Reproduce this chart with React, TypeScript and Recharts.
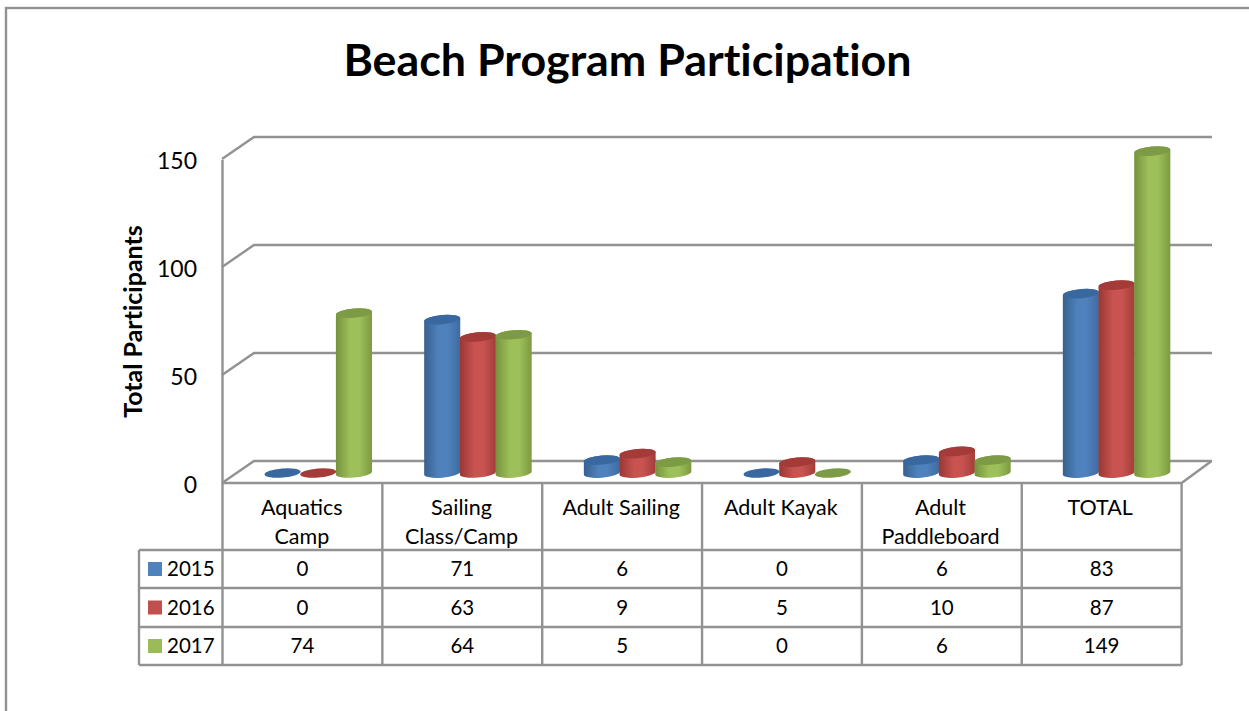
import React from "react";
import { ComposedChart, Bar, XAxis, YAxis, CartesianGrid } from "recharts";

const categories = ["Aquatics\nCamp", "Sailing\nClass/Camp", "Adult Sailing", "Adult Kayak", "Adult\nPaddleboard", "TOTAL"];
const years = ["2015", "2016", "2017"];
const values2015 = [0, 71, 6, 0, 6, 83];
const values2016 = [0, 63, 9, 5, 10, 87];
const values2017 = [74, 64, 5, 0, 6, 149];
const yTicks = [0, 50, 100, 150];

const seriesValues = [values2015, values2016, values2017];
const swatches = ["#4f81bd", "#c0504d", "#9bbb59"];
const tops = ["#38689f", "#a43b39", "#7d9b44"];
const gradients = [
  ["#37618f", "#4f81bd", "#3f6c9f"],
  ["#9a3734", "#c85350", "#a33d3a"],
  ["#76923c", "#9ec05b", "#7c9a41"],
];

const data = categories.map((name, i) => ({
  name,
  y2015: values2015[i],
  y2016: values2016[i],
  y2017: values2017[i],
}));

const FONT = "Lato, 'Noto Sans', sans-serif";
const NOLIG: React.CSSProperties = { fontVariantLigatures: "none" };
const GRAY = "#929292";
const SW = 2.4;
const DX = 32;
const DY = 22;
const FRONT_LEFT = 222.5;
const FRONT_Y = 483;
const COL_W = 159.85;
const ROW_Y = [483, 550, 588, 627, 665];
const LEGEND_X = 139;

const Cylinder = (props: any) => {
  const { x, y, width, height, seriesIdx } = props;
  const rx = width / 2 + 0.2;
  const ry = 4.6;
  const tilt = 3 / 2;
  const cx = x + width / 2 - 15.3;
  const top = y + 12;
  const bottom = y + height + 12;
  const c = tops[seriesIdx];
  if (height < 0.5) {
    return <ellipse cx={cx} cy={top} rx={rx} ry={ry} fill={c} transform={`rotate(-5 ${cx} ${top})`} />;
  }
  const d = `M${cx - rx} ${top + tilt} L${cx - rx} ${bottom + tilt} A${rx} ${ry} -5 0 0 ${cx + rx} ${bottom - tilt} L${cx + rx} ${top - tilt} A${rx} ${ry} -5 0 0 ${cx - rx} ${top + tilt} Z`;
  return (
    <g>
      <path d={d} fill={`url(#cyl${seriesIdx})`} />
      <ellipse cx={cx} cy={top} rx={rx} ry={ry} fill={c} transform={`rotate(-5 ${cx} ${top})`} />
    </g>
  );
};

const GridLine = (props: any) => {
  const { x1, y1, x2, y2 } = props;
  return (
    <polyline
      points={`${x1 - DX},${y1 + DY} ${x1},${y1} ${x2},${y2}`}
      fill="none"
      stroke={GRAY}
      strokeWidth={SW}
    />
  );
};

const YTick = (props: any) => {
  const { y, payload } = props;
  return (
    <text x={197} y={y + 32} textAnchor="end" fontFamily={FONT} fontSize={23} fill="#000">
      {payload.value}
    </text>
  );
};

const XTick = (props: any) => {
  const { x, payload } = props;
  const lines = String(payload.value).split("\n");
  return (
    <text textAnchor="middle" fontFamily={FONT} fontSize={21.5} fill="#000">
      {lines.map((l, i) => (
        <tspan key={l} x={x - DX} y={515 + i * 28.5}>
          {l}
        </tspan>
      ))}
    </text>
  );
};

const DataTable = () => {
  const right = FRONT_LEFT + COL_W * categories.length;
  return (
    <g>
      <line x1={FRONT_LEFT} y1={160} x2={FRONT_LEFT} y2={ROW_Y[4]} stroke={GRAY} strokeWidth={SW} />
      <line x1={FRONT_LEFT} y1={FRONT_Y} x2={right} y2={FRONT_Y} stroke={GRAY} strokeWidth={SW} />
      <line x1={right} y1={FRONT_Y} x2={right + DX - 2} y2={FRONT_Y - DY} stroke={GRAY} strokeWidth={SW} />
      {categories.map((_, i) => (
        <line
          key={i}
          x1={FRONT_LEFT + COL_W * (i + 1)}
          y1={FRONT_Y}
          x2={FRONT_LEFT + COL_W * (i + 1)}
          y2={ROW_Y[4]}
          stroke={GRAY}
          strokeWidth={SW}
        />
      ))}
      {ROW_Y.slice(1).map((y) => (
        <line key={y} x1={LEGEND_X} y1={y} x2={right} y2={y} stroke={GRAY} strokeWidth={SW} />
      ))}
      <line x1={LEGEND_X} y1={ROW_Y[1]} x2={LEGEND_X} y2={ROW_Y[4]} stroke={GRAY} strokeWidth={SW} />
      {years.map((yr, r) => {
        const yc = (ROW_Y[r + 1] + ROW_Y[r + 2]) / 2;
        return (
          <g key={yr}>
            <rect x={148} y={yc - 7} width={14} height={14} fill={swatches[r]} />
            <text x={167} y={yc + 7} fontFamily={FONT} fontSize={20.5} fill="#000">
              {yr}
            </text>
            {seriesValues[r].map((v, c) => (
              <text
                key={c}
                x={FRONT_LEFT + COL_W * (c + 0.5)}
                y={yc + 7}
                textAnchor="middle"
                fontFamily={FONT}
                fontSize={20.5}
                fill="#000"
              >
                {v}
              </text>
            ))}
          </g>
        );
      })}
    </g>
  );
};

export default function App() {
  return (
    <div style={{ position: "absolute", left: 0, top: 0, width: 1249, height: 711, background: "#fff", overflow: "hidden" }}>
      <ComposedChart
        width={1249}
        height={711}
        data={data}
        margin={{ top: 137, right: 37, bottom: 0, left: 194 }}
        barGap={0}
        barSize={35.7}
      >
        <defs>
          {gradients.map((g, i) => (
            <linearGradient key={i} id={`cyl${i}`} x1="0" y1="0" x2="1" y2="0">
              <stop offset="0" stopColor={g[0]} />
              <stop offset="0.4" stopColor={g[1]} />
              <stop offset="0.65" stopColor={g[1]} />
              <stop offset="1" stopColor={g[2]} />
            </linearGradient>
          ))}
        </defs>
        <rect x={6} y={8} width={1300} height={760} fill="none" stroke={GRAY} strokeWidth={SW} />
        <text x={627.5} y={75.5} textAnchor="middle" fontFamily={FONT} fontWeight={700} fontSize={44.8} fill="#000" style={NOLIG}>
          Beach Program Participation
        </text>
        <text
          transform="translate(142 321.5) rotate(-90)"
          textAnchor="middle"
          fontFamily={FONT}
          fontWeight={700}
          fontSize={25}
          fill="#000"
          style={NOLIG}
        >
          Total Participants
        </text>
        <CartesianGrid vertical={false} horizontal={(p: any) => <GridLine key={p.key ?? p.y1} {...p} />} />
        <XAxis dataKey="name" height={250} axisLine={false} tickLine={false} interval={0} tick={<XTick />} />
        <YAxis
          width={60}
          domain={[0, 150]}
          ticks={yTicks}
          axisLine={false}
          tickLine={false}
          tick={<YTick />}
        />
        <DataTable />
        <Bar dataKey="y2015" isAnimationActive={false} shape={(p: any) => <Cylinder {...p} seriesIdx={0} />} />
        <Bar dataKey="y2016" isAnimationActive={false} shape={(p: any) => <Cylinder {...p} seriesIdx={1} />} />
        <Bar dataKey="y2017" isAnimationActive={false} shape={(p: any) => <Cylinder {...p} seriesIdx={2} />} />
      </ComposedChart>
    </div>
  );
}
